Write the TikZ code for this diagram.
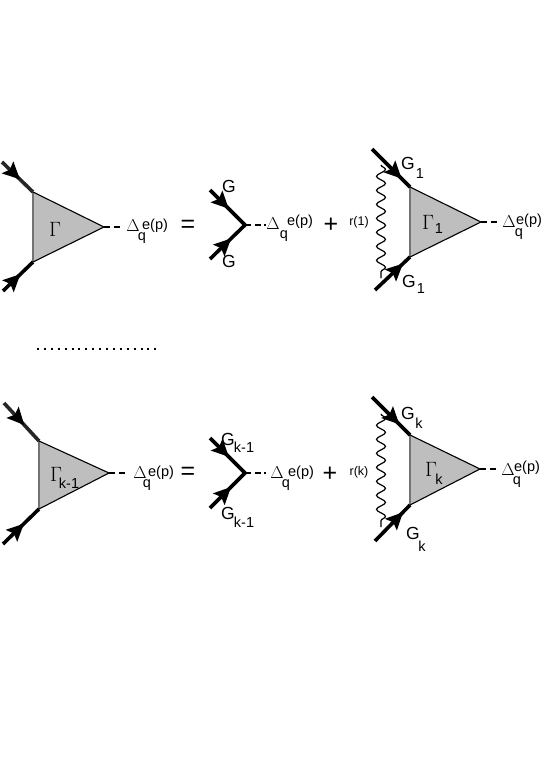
\documentclass[tikz,border=0pt]{standalone}
\usepackage[no-math]{fontspec}
\setmainfont{Liberation Sans}
\usetikzlibrary{arrows.meta,decorations.markings,decorations.pathmorphing}
\definecolor{trigray}{RGB}{190,190,190}

\begin{document}
\begin{tikzpicture}[
  x=1pt, y=-1pt,
  tri/.style={fill=trigray},
  back/.style={draw=black!55, line width=1.1pt},
  side/.style={draw=black, line width=1.1pt},
  leg/.style={line width=3.6pt, postaction={decorate},
              decoration={markings, mark=at position #1 with {\arrow[black]{Stealth[length=17pt,width=16pt,inset=3pt]}}}},
  leg/.default=0.58,
  vtx/.style={line width=3.6pt, line join=miter, postaction={decorate},
              decoration={markings,
                mark=at position 0.27 with {\arrow{Stealth[length=17pt,width=16pt,inset=3pt]}},
                mark=at position 0.70 with {\arrowreversed{Stealth[length=17pt,width=16pt,inset=3pt]}}}},
  scalar/.style={line width=2.4pt, dash pattern=on 6pt off 3.5pt},
  photon/.style={line width=1.2pt, decorate,
                 decoration={snake, amplitude=4.5pt, segment length=14pt, post length=3pt}},
  txt/.style={inner sep=0pt, font=\fontsize{14.5}{16}\selectfont},
  big/.style={inner sep=0pt, font=\fontsize{17.5}{19}\selectfont},
  small/.style={inner sep=0pt, font=\fontsize{12.5}{14}\selectfont},
  sign/.style={inner sep=0pt, font=\fontsize{25}{27}\selectfont},
  gam/.style={inner sep=0pt, font=\fontsize{22}{24}\selectfont},
  del/.style={inner sep=0pt, font=\fontsize{16}{18}\selectfont}
]
\useasboundingbox (0,0) rectangle (545,775);

% first line
\coordinate (a1) at (33,192);
\coordinate (a2) at (33,262);
\coordinate (a3) at (104,227);
\coordinate (a4) at (2,162);
\coordinate (a5) at (3,291);
\coordinate (a6) at (122,227);
\fill[tri] (a1) -- (a2) -- (a3) -- cycle;
\draw[back] (a1) -- (a2);
\draw[side] (a1) -- (a3) -- (a2);
\draw[leg, draw=black!85] (a4) -- (a1);
\draw[leg] (a5) -- (a2);
\draw[scalar] (a3) -- (a6);
\node[gam] (agam) at (55,229) {$\Gamma$};
\node[del] (adel) at (133,226) {$\Delta$};
\node[txt] (aq) at (142,238) {q};
\node[txt] (aep) at (155,226) {e(p)};
\node[sign] (eqa) at (188,226) {=};

\coordinate (b1) at (245,225);
\coordinate (b2) at (210,190);
\coordinate (b3) at (210,259);
\coordinate (b4) at (266,225);
\draw[vtx] (b2) -- (b1) -- (b3);
\draw[scalar] (b1) -- (b4);
\node[big] (bg1) at (229,186) {G};
\node[big] (bg2) at (229,261) {G};
\node[del] (bdel) at (273,224) {$\Delta$};
\node[txt] (bq) at (284,236) {q};
\node[txt] (bep) at (300,222) {e(p)};
\node[sign] (plusa) at (331,225) {+};

\coordinate (c1) at (410,187);
\coordinate (c2) at (410,257);
\coordinate (c3) at (481,222);
\coordinate (c4) at (372,149);
\coordinate (c5) at (375,290);
\coordinate (c6) at (498,222);
\coordinate (c7) at (381,165);
\coordinate (c8) at (381,278);
\fill[tri] (c1) -- (c2) -- (c3) -- cycle;
\draw[back] (c1) -- (c2);
\draw[side] (c1) -- (c3) -- (c2);
\draw[leg=0.78] (c4) -- (c1);
\draw[leg=0.8] (c5) -- (c2);
\draw[scalar] (c3) -- (c6);
\draw[photon] (c7) -- (c8);
\node[small] (cr) at (359,222) {r(1)};
\node[big] (cg1) at (408,163) {G};
\node[txt] (cs1) at (420,174) {1};
\node[big] (cg2) at (409,281) {G};
\node[txt] (cs2) at (421,289) {1};
\node[gam] (cgam) at (428,222) {$\Gamma$};
\node[txt] (cs3) at (439,229) {1};
\node[del] (cdel) at (509,222) {$\Delta$};
\node[txt] (cq) at (519,234) {q};
\node[txt] (cep) at (529,221) {e(p)};

% dots
\coordinate (d1) at (37,349);
\coordinate (d2) at (157,349);
\draw[line width=2pt, dash pattern=on 2pt off 4.9pt] (d1) -- (d2);

% second line
\coordinate (e1) at (39,441);
\coordinate (e2) at (39,509);
\coordinate (e3) at (109,473);
\coordinate (e4) at (4,403);
\coordinate (e5) at (3,544);
\coordinate (e6) at (127,473);
\fill[tri] (e1) -- (e2) -- (e3) -- cycle;
\draw[back] (e1) -- (e2);
\draw[side] (e1) -- (e3) -- (e2);
\draw[leg, draw=black!85] (e4) -- (e1);
\draw[leg] (e5) -- (e2);
\draw[scalar] (e3) -- (e6);
\node[gam] (egam) at (56,474) {$\Gamma$};
\node[txt] (es) at (69,483) {k-1};
\node[del] (edel) at (140,473) {$\Delta$};
\node[txt] (eq) at (147,485) {q};
\node[txt] (eep) at (161,473) {e(p)};
\node[sign] (eqb) at (188,473) {=};

\coordinate (f1) at (245,473);
\coordinate (f2) at (210,438);
\coordinate (f3) at (210,508);
\coordinate (f4) at (266,473);
\draw[vtx] (f2) -- (f1) -- (f3);
\draw[scalar] (f1) -- (f4);
\node[big] (fg1) at (228,439) {G};
\node[txt] (fs1) at (244,447) {k-1};
\node[big] (fg2) at (228,513) {G};
\node[txt] (fs2) at (244,522) {k-1};
\node[del] (fdel) at (277,473) {$\Delta$};
\node[txt] (fq) at (286,485) {q};
\node[txt] (fep) at (301,473) {e(p)};
\node[sign] (plusb) at (330,474) {+};

\coordinate (g1) at (410,435);
\coordinate (g2) at (410,505);
\coordinate (g3) at (480,469);
\coordinate (g4) at (372,397);
\coordinate (g5) at (375,541);
\coordinate (g6) at (497,469);
\coordinate (g7) at (381,414);
\coordinate (g8) at (381,527);
\fill[tri] (g1) -- (g2) -- (g3) -- cycle;
\draw[back] (g1) -- (g2);
\draw[side] (g1) -- (g3) -- (g2);
\draw[leg=0.72] (g4) -- (g1);
\draw[leg=0.8] (g5) -- (g2);
\draw[scalar] (g3) -- (g6);
\draw[photon] (g7) -- (g8);
\node[small] (gr) at (359,472) {r(k)};
\node[big] (gg1) at (408,413) {G};
\node[txt] (gs1) at (419,423) {k};
\node[big] (gg2) at (413,533) {G};
\node[txt] (gs2) at (422,546) {k};
\node[gam] (ggam) at (431,469) {$\Gamma$};
\node[txt] (gs3) at (439,479) {k};
\node[del] (gdel) at (508,470) {$\Delta$};
\node[txt] (gq) at (517,482) {q};
\node[txt] (gep) at (527,468) {e(p)};
\end{tikzpicture}
\end{document}
